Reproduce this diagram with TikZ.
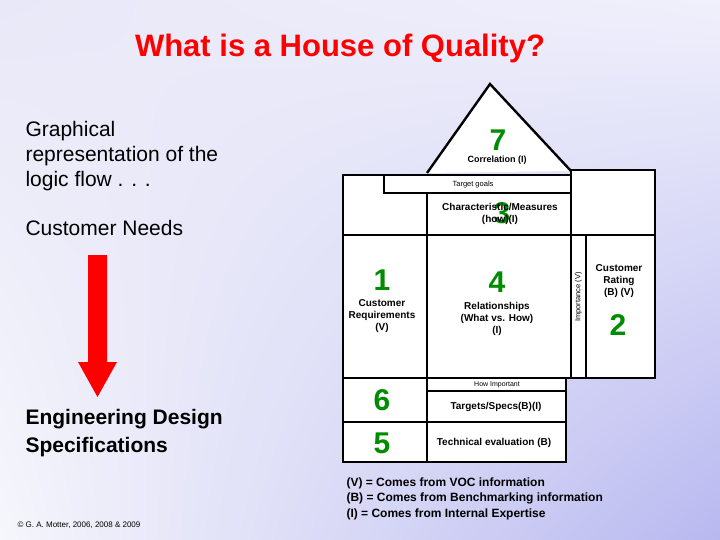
\documentclass[tikz,border=0pt]{standalone}
\usepackage{fontspec}
\setmainfont{Liberation Sans}
\usetikzlibrary{shadings}
\definecolor{bgul}{RGB}{232,232,248}
\definecolor{bgur}{RGB}{240,240,252}
\definecolor{bgll}{RGB}{246,246,252}
\definecolor{bglr}{RGB}{184,184,240}
\begin{document}
\begin{tikzpicture}[x=1pt,y=-1pt,
  wall/.style={draw=black,line width=2.4pt,fill=white},
  num/.style={text=green!55!black,font=\bfseries\fontsize{30}{30}\selectfont},
  lbl/.style={font=\bfseries\fontsize{10}{12}\selectfont,align=center},
  tiny/.style={font=\fontsize{7.5}{9}\selectfont},
  side/.style={anchor=west,font=\fontsize{21}{25}\selectfont,align=left}]
\useasboundingbox (0,0) rectangle (720,540);
\shade[upper left=bgul,upper right=bgur,lower left=bgll,lower right=bglr] (0,0) rectangle (720,540);
\node[text=red,font=\bfseries\fontsize{31}{36}\selectfont] (title) at (340,48) {What is a House of Quality?};
\node[side] (graph) at (22,156) {Graphical\\representation of the\\logic flow . . .};
\node[side] (needs) at (22,228) {Customer Needs};
\node[side,font=\bfseries\fontsize{21}{28}\selectfont] (eng) at (22,433) {Engineering Design\\Specifications};
\node[anchor=west,font=\fontsize{8}{10}\selectfont] (copy) at (14,525) {© G. A. Motter, 2006, 2008 \& 2009};
\fill[red] (88,255) -- (107,255) -- (107,362) -- (117,362) -- (97.5,397) -- (78,362) -- (88,362) -- cycle;
% house
\draw[wall] (427,173) -- (490,84) -- (571,171);
\draw[wall] (571,170) rectangle (655,235);
\draw[wall] (343,175) rectangle (571,378);
\draw[wall] (384,175) rectangle (571,193);
\draw[wall] (427,193) rectangle (571,235);
\draw[wall] (343,235) -- (571,235);
\draw[wall] (427,235) -- (427,378);
\draw[wall] (571,235) rectangle (586,378);
\draw[wall] (586,235) rectangle (655,378);
\draw[wall] (343,378) rectangle (566,462);
\draw[wall] (427,378) rectangle (566,391);
\draw[wall] (343,422) -- (566,422);
\draw[wall] (427,378) -- (427,462);
% texts
\node[num] (n7) at (498,140) {7};
\node[lbl,font=\bfseries\fontsize{9}{11}\selectfont] (corr) at (497,160) {Correlation (I)};
\node[tiny] (tg) at (473,185) {Target goals};
\node[num] (n3) at (502,213) {3};
\node[lbl] (char) at (500,214) {Characteristic/Measures\\(how)(I)};
\node[num] (n1) at (382,280) {1};
\node[lbl] (cr) at (382,316) {Customer\\Requirements\\(V)};
\node[num] (n4) at (497,282) {4};
\node[lbl] (rel) at (497,319) {Relationships\\(What vs. How)\\(I)};
\node[tiny,rotate=90] (imp) at (578.5,297) {Importance (V)};
\node[lbl] (rate) at (619,281) {Customer\\Rating\\(B) (V)};
\node[num] (n2) at (618,325) {2};
\node[tiny,font=\fontsize{7}{8}\selectfont] (hi) at (497,384.5) {How Important};
\node[num] (n6) at (382,400) {6};
\node[lbl] (ts) at (496,407) {Targets/Specs(B)(I)};
\node[num] (n5) at (382,443) {5};
\node[lbl] (te) at (494,443) {Technical evaluation (B)};
\node[anchor=north west,align=left,font=\bfseries\fontsize{12}{15.5}\selectfont] (leg) at (343,474) {(V) = Comes from VOC information\\(B) = Comes from Benchmarking information\\(I) = Comes from Internal Expertise};
\end{tikzpicture}
\end{document}
